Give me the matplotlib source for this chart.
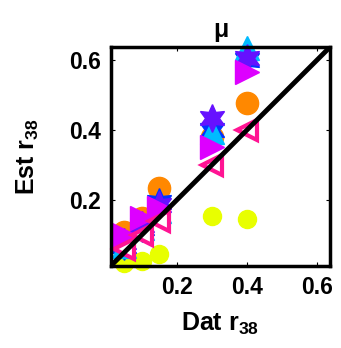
import matplotlib
matplotlib.use('Agg')
import matplotlib.pyplot as plt

plt.rcParams['font.family'] = ['Liberation Sans', 'DejaVu Sans']
plt.rcParams['font.weight'] = 'bold'
plt.rcParams['mathtext.fontset'] = 'custom'
plt.rcParams['mathtext.rm'] = 'Liberation Sans:bold'
plt.rcParams['mathtext.bf'] = 'Liberation Sans:bold'

# data
x_dat = [0.05, 0.1, 0.15, 0.3, 0.4]
yellow = [0.02, 0.025, 0.045, 0.155, 0.145]
orange = [0.11, 0.15, 0.235, 0.38, 0.477]
blue = [0.07, 0.12, 0.195, 0.40, 0.60]
cyan = [0.07, 0.12, 0.17, 0.394, 0.635]
purple = [0.08, 0.13, 0.185, 0.434, 0.606]
magenta = [0.10, 0.15, 0.177, 0.35, 0.566]
pink = [0.06, 0.10, 0.14, 0.30, 0.40]

lims = (0.012, 0.637)

fig = plt.figure(figsize=(3.41, 3.48), dpi=100)
ax = fig.add_axes([0.325, 0.236, 0.643, 0.629])

kw = dict(ls='none', clip_on=False)
ax.plot(x_dat, yellow, marker='o', ms=13, mfc='#e8ff00', mec='#e8ff00', **kw)
ax.plot(x_dat, orange, marker='o', ms=16, mfc='#ff8800', mec='#ff8800', **kw)
ax.plot(x_dat, blue, marker=(6, 1, 0), ms=20, mfc='#0033ff', mec='#0033ff', **kw)
ax.plot(x_dat, cyan, marker='^', ms=17, mfc='#00bbff', mec='#00bbff', **kw)
ax.plot(x_dat, purple, marker=(6, 1, 0), ms=20, mfc='#6611ff', mec='#6611ff', **kw)
ax.plot(x_dat, magenta, marker='>', ms=17, mfc='#dd00ff', mec='#dd00ff', **kw)
ax.plot(x_dat, pink, marker='<', ms=15, mfc='white', mec='#ff1493', mew=3, **kw)

ax.plot(lims, lims, color='black', lw=3.5)

ax.set_xlim(lims)
ax.set_ylim(lims)
ax.set_xticks([0.2, 0.4, 0.6])
ax.set_yticks([0.2, 0.4, 0.6])
ax.set_xticklabels(['0.2', '0.4', '0.6'])
ax.set_yticklabels(['0.2', '0.4', '0.6'])
ax.tick_params(direction='in', length=3, labelsize=16.5, top=True, right=True, pad=7)
for s in ax.spines.values():
    s.set_linewidth(2.5)

ax.set_xlabel('Dat r$_{38}$', fontsize=18, fontweight='bold', labelpad=9)
ax.set_ylabel('Est r$_{38}$', fontsize=18, fontweight='bold', labelpad=20)
ax.set_title('μ', fontsize=18, fontweight='bold', pad=7)

fig.savefig('out.png', dpi=100)
